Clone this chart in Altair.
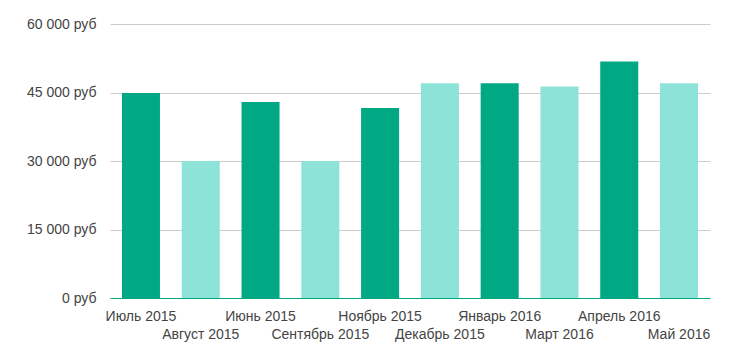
import altair as alt
import pandas as pd

months = ["Июль 2015", "Август 2015", "Июнь 2015", "Сентябрь 2015", "Ноябрь 2015",
          "Декабрь 2015", "Январь 2016", "Март 2016", "Апрель 2016", "Май 2016"]
values = [44900, 30000, 42900, 30000, 41600, 47000, 47000, 46300, 51800, 47000]
shade = ["dark", "light", "dark", "light", "dark", "light", "dark", "light", "dark", "light"]

df = pd.DataFrame({"month": months, "value": values, "shade": shade})

second_row = [m for m, s in zip(months, shade) if s == "light"]
arr = "[" + ",".join("'" + m + "'" for m in second_row) + "]"

chart = alt.Chart(df).mark_bar().encode(
    x=alt.X("month:N", sort=months, title=None,
            scale=alt.Scale(paddingInner=0.364, paddingOuter=0.2),
            axis=alt.Axis(labelAngle=0, ticks=False, domainColor="#00a884",
                          domainWidth=1, labelPadding=11, labelFont="Liberation Sans",
                          labelFontSize=14, labelColor="#444444", labelLineHeight=18,
                          labelExpr=f"indexof({arr}, datum.value) >= 0 ? ['', datum.label] : datum.label")),
    y=alt.Y("value:Q", title=None,
            scale=alt.Scale(domain=[0, 60000]),
            axis=alt.Axis(values=[0, 15000, 30000, 45000, 60000], ticks=False, domain=False,
                          gridColor="#cccccc", labelPadding=14, labelFont="Liberation Sans",
                          labelFontSize=14, labelColor="#444444",
                          labelExpr="replace(format(datum.value, ',d'), ',', ' ') + ' руб'")),
    color=alt.Color("shade:N", legend=None,
                    scale=alt.Scale(domain=["dark", "light"], range=["#00a884", "#8de3d8"])),
).properties(
    width=600, height=274,
    autosize=alt.AutoSizeParams(type="none"),
    padding={"left": 110, "top": 24, "right": 38, "bottom": 58},
).configure_view(stroke=None)

chart.save("out.html", embed_options={"renderer": "svg", "actions": False})
